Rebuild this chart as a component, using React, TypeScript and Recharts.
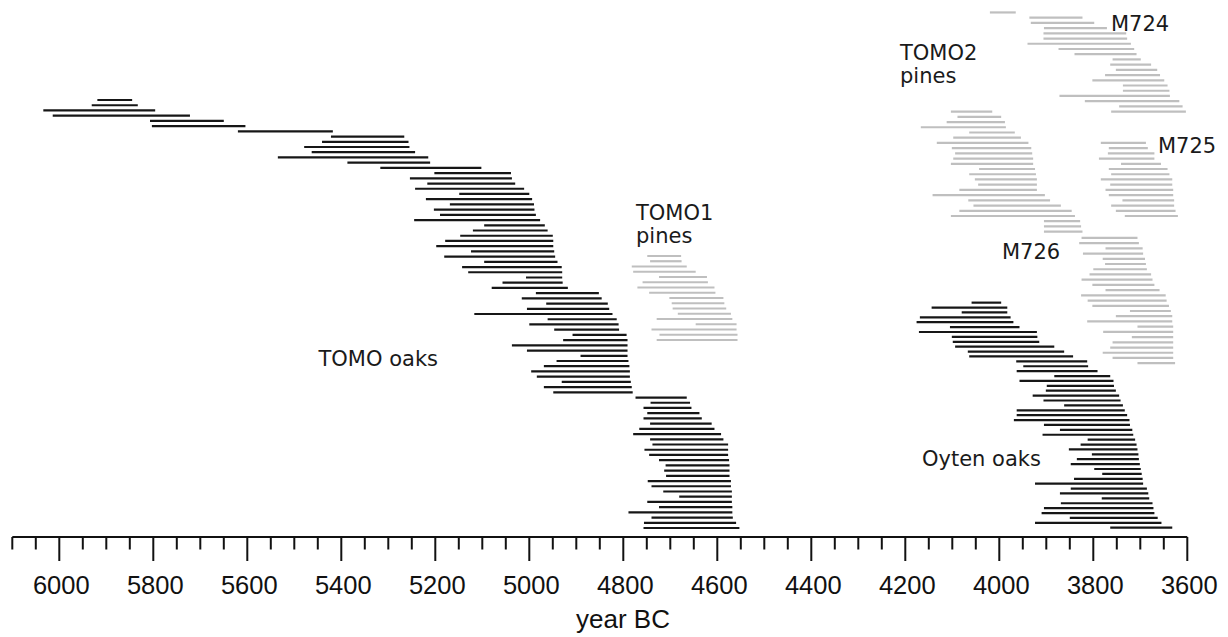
import React from 'react';
import { ComposedChart, XAxis, YAxis, ReferenceLine, Customized } from 'recharts';

// Chronology spans, [first year BC, last year BC], one per row (top to bottom)
const tomoOaks: [number, number][] = [
  [5919, 5845], [5931, 5833], [6034, 5796], [6014, 5722], [5807, 5650], [5803, 5604],
  [5620, 5418], [5422, 5266], [5441, 5257], [5479, 5255], [5463, 5243], [5535, 5215],
  [5387, 5211], [5317, 5102], [5202, 5039], [5254, 5037], [5217, 5030], [5243, 5011],
  [5149, 5000], [5220, 4994], [5169, 4990], [5203, 4989], [5190, 4986], [5245, 4977],
  [5096, 4967], [5120, 4961], [5147, 4950], [5179, 4949], [5198, 4949], [5124, 4947],
  [5181, 4945], [5096, 4940], [5143, 4931], [5130, 4930], [5007, 4930], [5057, 4929],
  [5080, 4918], [4986, 4852], [5016, 4846], [4964, 4833], [5005, 4830], [5117, 4823],
  [4961, 4814], [5000, 4810], [4947, 4809], [4908, 4793], [4928, 4791], [5037, 4791],
  [5005, 4791], [4891, 4791], [4942, 4789], [4969, 4787], [4996, 4786], [4984, 4786],
  [4931, 4784], [4969, 4782], [4949, 4780],
  [4774, 4665], [4742, 4658], [4757, 4655], [4749, 4638], [4757, 4633], [4743, 4612],
  [4766, 4606], [4779, 4592], [4743, 4587], [4738, 4577], [4755, 4577], [4745, 4577],
  [4724, 4575], [4710, 4574], [4713, 4574], [4709, 4574], [4748, 4571], [4740, 4571],
  [4715, 4569], [4681, 4569], [4749, 4569], [4724, 4568], [4789, 4568], [4740, 4567],
  [4756, 4560], [4757, 4553],
];

const tomo1Pines: [number, number][] = [
  [4749, 4677], [4743, 4676], [4782, 4665], [4779, 4646], [4724, 4622], [4759, 4620],
  [4770, 4606], [4745, 4604], [4702, 4587], [4697, 4585], [4695, 4581], [4684, 4571],
  [4729, 4568], [4646, 4559], [4740, 4559], [4723, 4557], [4729, 4557],
];

const tomo2Pines: [number, number][] = [
  [4103, 4015], [4089, 3996], [4112, 3988], [4167, 3986], [4064, 3967], [4098, 3954],
  [4133, 3938], [4101, 3932], [4094, 3930], [4098, 3928], [4103, 3928], [4043, 3924],
  [4064, 3922], [4052, 3920], [4045, 3920], [4085, 3920], [4142, 3903], [4066, 3892],
  [4055, 3869], [4085, 3846], [4103, 3839], [3905, 3828], [3905, 3826], [3905, 3823],
];

const m724: [number, number][] = [
  [4020, 3965], [3936, 3823], [3933, 3798], [3905, 3771], [3906, 3730], [3906, 3728],
  [3940, 3720], [3874, 3713], [3840, 3708], [3759, 3699], [3764, 3677], [3752, 3664],
  [3775, 3658], [3802, 3649], [3737, 3642], [3737, 3638], [3872, 3637], [3818, 3617],
  [3745, 3610], [3762, 3603],
];

const m725: [number, number][] = [
  [3784, 3688], [3767, 3684], [3769, 3670], [3788, 3670], [3741, 3656], [3767, 3642],
  [3762, 3638], [3784, 3632], [3764, 3632], [3774, 3630], [3767, 3630], [3738, 3628],
  [3762, 3628], [3752, 3625], [3733, 3620],
];

const m726: [number, number][] = [
  [3825, 3706], [3830, 3703], [3774, 3695], [3822, 3694], [3780, 3690], [3775, 3688],
  [3800, 3686], [3808, 3677], [3825, 3674], [3802, 3670], [3774, 3659], [3826, 3646],
  [3812, 3644], [3802, 3639], [3722, 3635], [3752, 3632], [3813, 3632], [3706, 3630],
  [3779, 3630], [3718, 3630], [3759, 3630], [3764, 3630], [3780, 3630], [3759, 3630],
  [3706, 3626],
];

const oytenOaks: [number, number][] = [
  [4059, 3996], [4144, 3983], [4080, 3983], [4169, 3976], [4176, 3970], [4105, 3957],
  [4171, 3920], [4101, 3919], [4099, 3915], [4094, 3883], [4067, 3862], [4064, 3843],
  [3964, 3813], [3949, 3811], [3963, 3791], [3883, 3764], [3957, 3757], [3899, 3756],
  [3901, 3752], [3929, 3745], [3906, 3742], [3862, 3737], [3963, 3733], [3963, 3728],
  [3969, 3723], [3905, 3722], [3871, 3717], [3908, 3715], [3812, 3711], [3827, 3708],
  [3852, 3706], [3803, 3704], [3835, 3703], [3848, 3701], [3798, 3699], [3781, 3697],
  [3841, 3695], [3924, 3694], [3848, 3686], [3871, 3683], [3782, 3681], [3869, 3674],
  [3905, 3672], [3910, 3670], [3850, 3663], [3924, 3655], [3764, 3632],
];

const majorTicks = [6000, 5800, 5600, 5400, 5200, 5000, 4800, 4600, 4400, 4200, 4000, 3800, 3600];
const allTicks = [
  6100, 6050, 6000, 5950, 5900, 5850, 5800, 5750, 5700, 5650, 5600, 5550, 5500, 5450, 5400,
  5350, 5300, 5250, 5200, 5150, 5100, 5050, 5000, 4950, 4900, 4850, 4800, 4750, 4700, 4650,
  4600, 4550, 4500, 4450, 4400, 4350, 4300, 4250, 4200, 4150, 4100, 4050, 4000, 3950, 3900,
  3850, 3800, 3750, 3700, 3650, 3600,
];

// layout of each group on the vertical track axis
const BLACK = '#161616';
const GREY = '#bfbfbf';
const groups = [
  { name: 'M724', data: m724, firstRow: 0, step: 1, color: GREY },
  { name: 'TOMO2 pines', data: tomo2Pines, firstRow: 19, step: 1, color: GREY },
  { name: 'M725', data: m725, firstRow: 25, step: 1, color: GREY },
  { name: 'M726', data: m726, firstRow: 43.2, step: 1, color: GREY },
  { name: 'TOMO1 pines', data: tomo1Pines, firstRow: 46.66, step: 1.006, color: GREY },
  { name: 'TOMO oaks', data: tomoOaks, firstRow: 16.78, step: 1, color: BLACK },
  { name: 'Oyten oaks', data: oytenOaks, firstRow: 55.6, step: 0.9374, color: BLACK },
];

const FONT_AX = '"Liberation Sans", Arial, sans-serif';
const FONT_LB = '"DejaVu Sans", sans-serif';

const AxisTick = (props: any) => {
  const { x, y, payload } = props;
  const v = payload.value as number;
  const major = majorTicks.includes(v);
  return (
    <g>
      <line x1={x} x2={x} y1={y} y2={y + (major ? 24 : 12.5)} stroke="#111" strokeWidth={2} />
      {major && (
        <text x={x + 2} y={y + 57} textAnchor="middle" fontFamily={FONT_AX} fontSize={25.5} fill="#111">
          {v}
        </text>
      )}
    </g>
  );
};

const Labels = () => {
  const st = { fontFamily: FONT_LB, fontSize: 21, fill: '#1a1a1a' } as any;
  return (
    <g>
      <text x={438} y={366} textAnchor="end" {...st}>TOMO oaks</text>
      <text x={636} y={220} {...st}>TOMO1</text>
      <text x={636} y={243} {...st}>pines</text>
      <text x={900} y={60} {...st}>TOMO2</text>
      <text x={900} y={83} {...st}>pines</text>
      <text x={1111} y={31} {...st}>M724</text>
      <text x={1158} y={153} {...st}>M725</text>
      <text x={1002} y={259} {...st}>M726</text>
      <text x={922} y={466} {...st}>Oyten oaks</text>
      <text x={623} y={628} textAnchor="middle" fontFamily={FONT_AX} fontSize={26} fill="#111">year BC</text>
    </g>
  );
};

export default function App() {
  const segs: { key: string; a: number; b: number; y: number; color: string }[] = [];
  groups.forEach((g) => {
    g.data.forEach(([a, b], i) => {
      segs.push({ key: `${g.name}-${i}`, a, b, y: g.firstRow + i * g.step, color: g.color });
    });
  });
  return (
    <div style={{ position: 'absolute', left: 0, top: 0, background: '#fff' }}>
      <ComposedChart
        width={1228}
        height={637}
        data={[]}
        margin={{ top: 2, right: 40.7, bottom: 0, left: 12.3 }}
      >
        <XAxis
          type="number"
          dataKey="x"
          domain={[3600, 6100]}
          reversed
          allowDataOverflow
          ticks={allTicks}
          interval={0}
          tick={<AxisTick />}
          tickLine={false}
          tickSize={0}
          tickMargin={0}
          height={100}
          axisLine={{ stroke: '#111', strokeWidth: 2 }}
        />
        <YAxis type="number" dataKey="y" domain={[-2, 100.5]} reversed hide allowDataOverflow />
        {segs.map((s) => (
          <ReferenceLine
            key={s.key}
            segment={[{ x: s.a, y: s.y }, { x: s.b, y: s.y }]}
            stroke={s.color}
            strokeWidth={2.2}
            ifOverflow="visible"
          />
        ))}
        <Customized component={Labels} />
      </ComposedChart>
    </div>
  );
}
